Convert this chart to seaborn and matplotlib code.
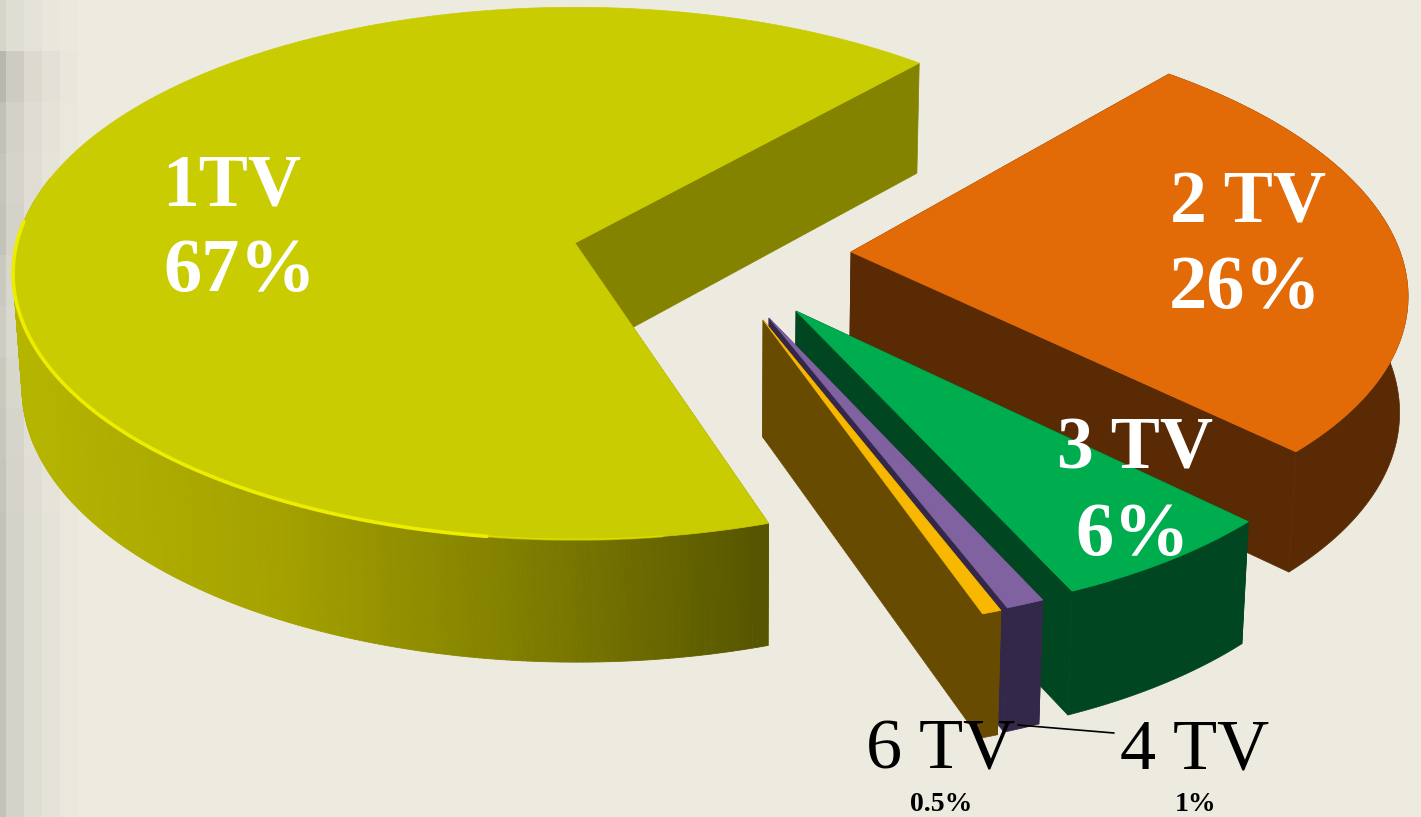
import numpy as np
import seaborn as sns
import matplotlib.pyplot as plt
from matplotlib.patches import Polygon

#%% data
labels = ["1TV", "6 TV", "4 TV", "3 TV", "2 TV"]
shares = [67, 0.5, 1, 6, 26]
share_text = ["67%", "0.5%", "1%", "6%", "26%"]

#%% layout and colours
START_ANGLE = 48
K, A, B = 0.115, 561, 264
CX, CY = 575, 243
VX = 733

radius = {"1TV": 0.995, "2 TV": 0.975, "3 TV": 0.975, "4 TV": 0.975, "6 TV": 0.975}
apex_px = {"1TV": (575, 243), "2 TV": (851, 252), "3 TV": (796, 311), "4 TV": (769, 318), "6 TV": (763, 320)}
top_colors = {"1TV": "#C9CC00", "2 TV": "#E26B08", "3 TV": "#00AD4E", "4 TV": "#7F629F", "6 TV": "#F8B800"}
wall_colors = {"1TV": "#848300", "2 TV": "#5A2A04", "3 TV": "#004620", "4 TV": "#33284A", "6 TV": "#674B00"}
rim_gradient = sns.blend_palette(["#B5B500", "#A5A200", "#807E00", "#545300"], 256)


def project(u, v):
    w = 1 / (1 + K * v)
    return CX + A * u * w, CY - B * v * w


def unproject(x, y):
    s = (CY - y) / B
    v = s / (1 - K * s)
    u = (x - CX) / A * (1 + K * v)
    return u, v


def drop(x, y):
    # move a point of the top face down to the bottom face
    return VX + (x - VX) * 0.9875, y + 110 + 0.026 * (y - 58)


def draw_slice(ax, name, a0, a1):
    apex = apex_px[name]
    cu, cv = unproject(*apex)
    deg = np.linspace(a0, a1, max(int(a1 - a0) * 2, 6))
    t = np.radians(deg)
    xs, ys = project(cu + radius[name] * np.cos(t), cv + radius[name] * np.sin(t))
    bx, by = drop(xs, ys)
    ab = drop(*apex)
    wall = wall_colors[name]

    # flat walls
    for i in (0, -1):
        ax.add_patch(Polygon([apex, (xs[i], ys[i]), (bx[i], by[i]), ab], fc=wall, ec=wall, lw=0.5))

    # rim
    if name == "1TV":
        for i in np.where(deg[:-1] > 165)[0]:
            pos = np.clip((xs[i] - 20) / 750, 0, 1)
            col = rim_gradient[int(pos * 255)]
            ax.add_patch(Polygon([(xs[i], ys[i]), (xs[i + 1], ys[i + 1]), (bx[i + 1], by[i + 1]), (bx[i], by[i])],
                                 fc=col, ec=col, lw=0.6))
    else:
        ax.add_patch(Polygon(np.r_[np.c_[xs, ys], np.c_[bx, by][::-1]], fc=wall, ec=wall, lw=0.5))

    # top face
    top = np.r_[[apex], np.c_[xs, ys]]
    ax.add_patch(Polygon(top, fc=top_colors[name], ec=top_colors[name], lw=0.5))

    # bright edge on the lower left, fades out towards the front
    if name == "1TV":
        keep = (deg > 175) & (deg < 262)
        ax.plot(xs[keep], ys[keep], color="#EDED00", lw=2.6, solid_capstyle="round")
        keep = (deg >= 261) & (deg < 278)
        ax.plot(xs[keep], ys[keep], color="#EDED00", lw=1.6, alpha=0.5)


if __name__ == "__main__":
    sns.set_theme(style="white")
    plt.rcParams["font.family"] = ["Liberation Serif", "DejaVu Serif"]

    fig = plt.figure(figsize=(14.21, 8.17), dpi=100)
    ax = fig.add_axes([0, 0, 1, 1])
    fig.patch.set_facecolor("#EDEBE0")
    ax.set_facecolor("#EDEBE0")

    # blocky grey strip at the left edge
    col_fade = np.array([0.17, 0.10, 0.10, 0.10, 0.055, 0.055, 0.055, 0.03, 0.03, 0.03, 0.012, 0.012, 0.012])
    row_fade = np.array([0.55, 1.3, 1.05, 0.95, 1.0, 0.85, 0.75, 0.85, 0.9, 0.95, 1.0, 1.0, 1.0, 1.0, 1.0, 1.0])
    base = np.array([0xED, 0xEB, 0xE0]) / 255
    bg = base[None, None, :] * (1 - (row_fade[:, None] * col_fade[None, :]))[:, :, None]
    ax.imshow(bg, extent=(0, 78, 817, 0), interpolation="nearest", aspect="auto", zorder=0)
    ax.set_xlim(0, 1421)
    ax.set_ylim(817, 0)
    ax.axis("off")

    # slices, back to front
    spans = {}
    angle = START_ANGLE
    total = sum(shares)
    for name, share in zip(labels, shares):
        spans[name] = (angle, angle + share / total * 360)
        angle = spans[name][1]
    for name in ["1TV", "2 TV", "3 TV", "4 TV", "6 TV"]:
        draw_slice(ax, name, *spans[name])

    # leader line of the 4 TV label
    ax.plot([1018, 1114], [725, 733], color="black", lw=1.2)

    # text
    big = dict(color="white", fontsize=53, fontweight="bold", ha="center", va="baseline")
    pct = dict(color="white", fontsize=55, fontweight="bold", ha="center", va="baseline")
    ax.text(232, 205, labels[0], **big)
    ax.text(240, 291, share_text[0], **pct)
    ax.text(1248, 222, labels[4], **big)
    ax.text(1245, 308, share_text[4], **pct)
    ax.text(1135, 468, labels[3], **big)
    ax.text(1133, 555, share_text[3], **pct)

    black = dict(color="black", fontsize=52, ha="center", va="baseline")
    small = dict(color="black", fontsize=20, fontweight="bold", ha="center", va="baseline")
    ax.text(941, 769, labels[1], **black)
    ax.text(941, 811, share_text[1], **small)
    ax.text(1195, 769, labels[2], **black)
    ax.text(1196, 811, share_text[2], **small)

    fig.savefig("out.png", dpi=100)
